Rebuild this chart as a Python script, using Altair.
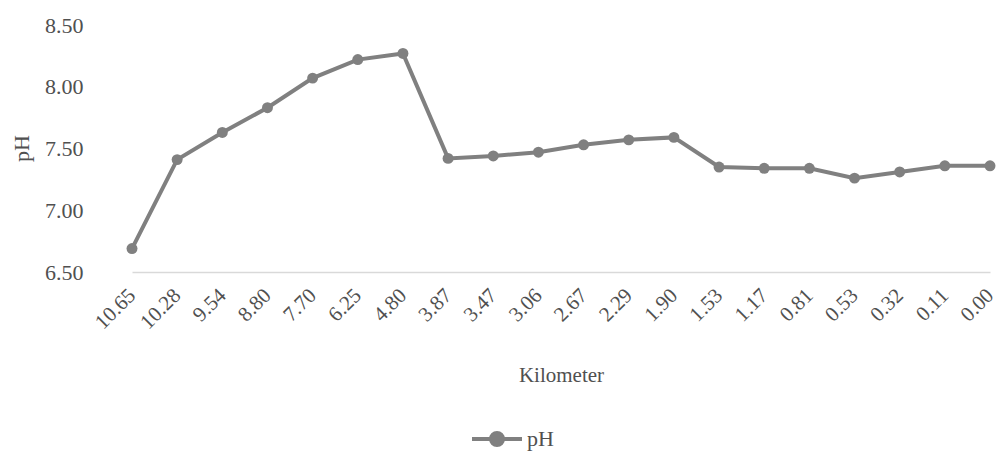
import altair as alt
import pandas as pd

kilometers = ["10.65", "10.28", "9.54", "8.80", "7.70", "6.25", "4.80", "3.87", "3.47", "3.06",
              "2.67", "2.29", "1.90", "1.53", "1.17", "0.81", "0.53", "0.32", "0.11", "0.00"]
ph_values = [6.69, 7.41, 7.63, 7.83, 8.07, 8.22, 8.27, 7.42, 7.44, 7.47,
             7.53, 7.57, 7.59, 7.35, 7.34, 7.34, 7.26, 7.31, 7.36, 7.36]
y_ticks = [6.5, 7.0, 7.5, 8.0, 8.5]

df = pd.DataFrame({"km": kilometers, "ph": ph_values, "series": ["pH"] * len(kilometers)})

FONT = "Liberation Serif"
TXT = "#505050"
GRAY = "#808080"

legend_path = "M-1,0L1,0M0.24,0A0.24,0.24,0,1,1,-0.24,0A0.24,0.24,0,1,1,0.24,0Z"

x = alt.X("km:N", sort=kilometers,
          scale=alt.Scale(type="point", range=[24, 882], padding=0),
          axis=alt.Axis(title="Kilometer", labelAngle=-45, labelAlign="right", labelBaseline="middle",
                        labelPadding=20, ticks=False, domainColor="#d9d9d9", domainWidth=1.5,
                        labelFont=FONT, labelFontSize=21, labelColor=TXT,
                        titleFont=FONT, titleFontSize=21, titleColor=TXT, titleFontWeight="normal",
                        titleY=103, titleBaseline="middle"))
y = alt.Y("ph:Q", scale=alt.Scale(domain=[6.5, 8.5]),
          axis=alt.Axis(title="pH", values=y_ticks, format=".2f", grid=False, domain=False, ticks=False,
                        labelPadding=25, labelFont=FONT, labelFontSize=22, labelColor=TXT,
                        titleFont=FONT, titleFontSize=22, titleColor=TXT, titleFontWeight="normal",
                        titleAngle=-90, titleX=-87, titleY=123, titleAlign="center", titleBaseline="middle"))
color = alt.Color("series:N", scale=alt.Scale(range=[GRAY]),
                  legend=alt.Legend(title=None, orient="none", legendX=362, legendY=387,
                                    symbolType=legend_path, symbolSize=2500, symbolStrokeWidth=4,
                                    symbolFillColor=GRAY, symbolStrokeColor=GRAY,
                                    labelFont=FONT, labelFontSize=22, labelColor=TXT, labelOffset=3))

base = alt.Chart(df)
line = base.mark_line(strokeWidth=4).encode(x=x, y=y, color=color)
pts = base.mark_point(filled=True, size=120, opacity=1).encode(x=x, y=y, color=color)

chart = (line + pts).properties(
    width=893, height=247,
    background="white",
    autosize=alt.AutoSizeParams(type="none"),
    padding={"left": 108, "top": 25, "right": 0, "bottom": 180},
).configure_view(strokeWidth=0, stroke="transparent")

chart.save("out.html", embed_options={"renderer": "svg", "actions": False})
